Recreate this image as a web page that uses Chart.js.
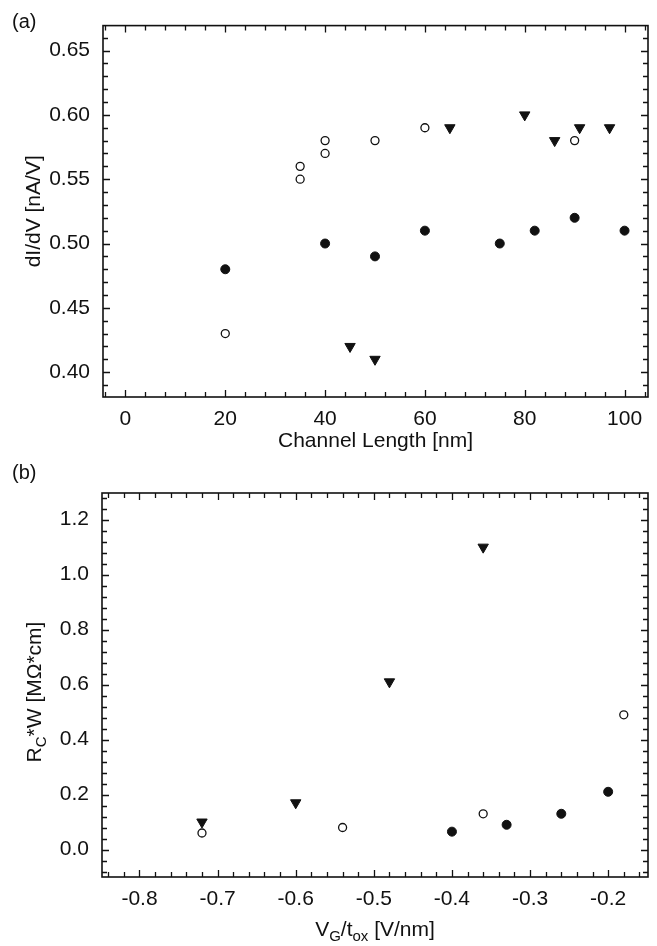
<!DOCTYPE html>
<html lang="en">
<head>
<meta charset="UTF-8">
<title>dI/dV vs channel length, contact resistance vs gate field</title>
<script src="https://cdn.jsdelivr.net/npm/chart.js"></script>
<style>
  body { margin: 0; background: #fff; }
  canvas { display: block; }
</style>
</head>
<body>
<canvas id="chartA" width="657" height="458"></canvas>
<canvas id="chartB" width="657" height="488"></canvas>
<script>
// ---- panel (a): dI/dV [nA/V] vs channel length [nm]
const openA   = [[20, 0.43], [35, 0.55], [35, 0.56], [40, 0.57], [40, 0.58], [50, 0.58], [60, 0.59], [90, 0.58]];
const filledA = [[20, 0.48], [40, 0.50], [50, 0.49], [60, 0.51], [75, 0.50], [82, 0.51], [90, 0.52], [100, 0.51]];
const triA    = [[45, 0.42], [50, 0.41], [65, 0.59], [80, 0.60], [86, 0.58], [91, 0.59], [97, 0.59]];
const xTicksA = [0, 20, 40, 60, 80, 100];
const yTicksA = [0.40, 0.45, 0.50, 0.55, 0.60, 0.65];

// ---- panel (b): Rc*W [MOhm*cm] vs VG/tox [V/nm]
const openB   = [[-0.72, 0.06], [-0.54, 0.08], [-0.36, 0.13], [-0.18, 0.49]];
const filledB = [[-0.40, 0.065], [-0.33, 0.09], [-0.26, 0.13], [-0.20, 0.21]];
const triB    = [[-0.72, 0.10], [-0.60, 0.17], [-0.48, 0.61], [-0.36, 1.10]];
const xTicksB = [-0.8, -0.7, -0.6, -0.5, -0.4, -0.3, -0.2];
const yTicksB = [0.0, 0.2, 0.4, 0.6, 0.8, 1.0, 1.2];

const INK = '#111';
const FONT = "'Liberation Sans', Arial, Helvetica, sans-serif";
const SIZE = 21;

function steps(from, to, step) {
  const out = [];
  const n = Math.round((to - from) / step);
  for (let i = 0; i <= n; i++) out.push(Math.round((from + i * step) * 1000) / 1000);
  return out;
}

function pts(list) { return list.map(([x, y]) => ({x, y})); }

function datasets(open, filled, tri) {
  return [
    { data: pts(filled), pointStyle: 'circle', pointRadius: 4.5, backgroundColor: INK, borderColor: INK, borderWidth: 1 },
    { data: pts(open), pointStyle: 'circle', pointRadius: 4, backgroundColor: '#fff', borderColor: INK, borderWidth: 1.3 },
    { data: pts(tri), pointStyle: 'triangle', rotation: 180, pointRadius: 6, backgroundColor: INK, borderColor: INK, borderWidth: 1 }
  ];
}

// draws frame, inward ticks on all four sides, panel letter and rich titles
const framePlugin = {
  id: 'frame',
  afterDraw(chart, args, o) {
    const {ctx, chartArea: a, scales: {x, y}} = chart;
    ctx.save();
    ctx.strokeStyle = INK;
    ctx.lineWidth = 1.6;
    ctx.strokeRect(a.left, a.top, a.right - a.left, a.bottom - a.top);
    ctx.lineWidth = 1.3;
    const isMajor = (v, list) => list.some(m => Math.abs(m - v) < 1e-6);
    ctx.beginPath();
    o.xMinor.forEach(v => {
      const px = Math.round(x.getPixelForValue(v)) + 0.5;
      if (px < a.left + 1 || px > a.right - 1) return;
      const len = isMajor(v, o.xMajor) ? 7 : 5;
      ctx.moveTo(px, a.bottom); ctx.lineTo(px, a.bottom - len);
      ctx.moveTo(px, a.top); ctx.lineTo(px, a.top + len);
    });
    o.yMinor.forEach(v => {
      const py = Math.round(y.getPixelForValue(v)) + 0.5;
      if (py < a.top + 1 || py > a.bottom - 1) return;
      const len = isMajor(v, o.yMajor) ? 7 : 5;
      ctx.moveTo(a.left, py); ctx.lineTo(a.left + len, py);
      ctx.moveTo(a.right, py); ctx.lineTo(a.right - len, py);
    });
    ctx.stroke();

    ctx.fillStyle = INK;
    ctx.font = '20px ' + FONT;
    ctx.textBaseline = 'alphabetic';
    ctx.fillText(o.panel, o.panelX, o.panelY);

    (o.titles || []).forEach(t => richText(ctx, t.parts, t.x, t.y, t.rotate));
    ctx.restore();
  }
};

function richText(ctx, parts, cx, cy, rotate) {
  ctx.save();
  ctx.translate(cx, cy);
  if (rotate) ctx.rotate(-Math.PI / 2);
  const fontOf = sub => (sub ? '15px ' : SIZE + 'px ') + FONT;
  let w = 0;
  parts.forEach(([t, sub]) => { ctx.font = fontOf(sub); w += ctx.measureText(t).width; });
  let xx = -w / 2;
  ctx.fillStyle = INK;
  ctx.textBaseline = 'alphabetic';
  parts.forEach(([t, sub]) => {
    ctx.font = fontOf(sub);
    ctx.fillText(t, xx, sub ? 12 : 7);
    xx += ctx.measureText(t).width;
  });
  ctx.restore();
}

function axis(opts) {
  return {
    type: 'linear',
    position: opts.position,
    min: opts.min,
    max: opts.max,
    afterBuildTicks: s => { s.ticks = opts.ticks.map(v => ({value: v})); },
    afterFit: s => {
      if (opts.position === 'left') s.width = opts.size; else s.height = opts.size;
    },
    grid: { display: false, drawTicks: false },
    border: { display: false },
    ticks: {
      color: INK,
      font: { family: FONT, size: SIZE },
      padding: opts.padding,
      maxRotation: 0,
      autoSkip: false,
      callback: v => v.toFixed(opts.digits)
    },
    title: opts.title ? {
      display: true,
      text: opts.title,
      color: INK,
      font: { family: FONT, size: SIZE },
      padding: opts.titlePadding
    } : { display: false }
  };
}

const common = {
  responsive: false,
  animation: false,
  events: [],
  plugins: { legend: { display: false }, tooltip: { enabled: false } }
};

new Chart(document.getElementById('chartA'), {
  type: 'scatter',
  data: { datasets: datasets(openA, filledA, triA) },
  options: {
    ...common,
    layout: { padding: { top: 14, right: 9, left: 0, bottom: 0 } },
    scales: {
      x: axis({ position: 'bottom', min: -4.5, max: 104.7, ticks: xTicksA, digits: 0, size: 61, padding: 10,
                title: 'Channel Length [nm]', titlePadding: { top: 0, bottom: 4 } }),
      y: axis({ position: 'left', min: 0.3807, max: 0.6694, ticks: yTicksA, digits: 2, size: 103, padding: 13,
                title: 'dI/dV [nA/V]', titlePadding: { top: 22, bottom: 0 } })
    },
    plugins: {
      ...common.plugins,
      frame: { xMinor: steps(-4, 104, 4), xMajor: xTicksA, yMinor: steps(0.38, 0.67, 0.01), yMajor: yTicksA,
               panel: '(a)', panelX: 12, panelY: 28 }
    }
  },
  plugins: [framePlugin]
});

new Chart(document.getElementById('chartB'), {
  type: 'scatter',
  data: { datasets: datasets(openB, filledB, triB) },
  options: {
    ...common,
    layout: { padding: { top: 35, right: 9, left: 0, bottom: 0 } },
    scales: {
      x: axis({ position: 'bottom', min: -0.848, max: -0.149, ticks: xTicksB, digits: 1, size: 69, padding: 10 }),
      y: axis({ position: 'left', min: -0.1, max: 1.297, ticks: yTicksB, digits: 1, size: 102, padding: 13 })
    },
    plugins: {
      ...common.plugins,
      frame: { xMinor: steps(-0.84, -0.16, 0.02), xMajor: xTicksB, yMinor: steps(-0.08, 1.28, 0.04), yMajor: yTicksB,
               panel: '(b)', panelX: 12, panelY: 21,
               titles: [
                 { parts: [['V'], ['G', true], ['/t'], ['ox', true], [' [V/nm]']], x: 375, y: 471 },
                 { parts: [['R'], ['C', true], ['*W [MΩ*cm]']], x: 34, y: 234, rotate: true }
               ] }
    }
  },
  plugins: [framePlugin]
});
</script>
</body>
</html>
